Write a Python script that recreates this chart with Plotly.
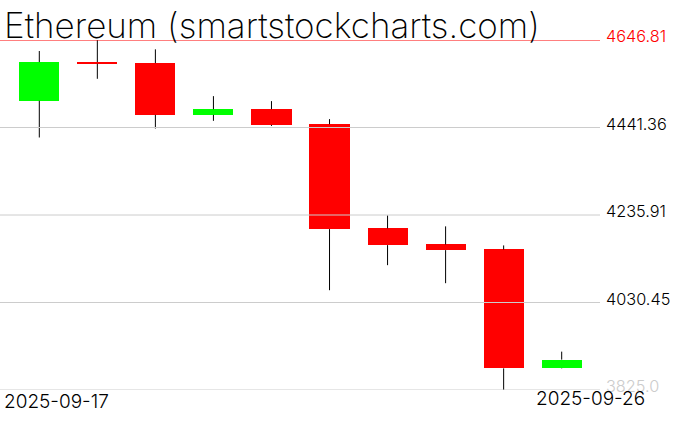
import plotly.graph_objects as go

# ---- data ----
dates = ["2025-09-17", "2025-09-18", "2025-09-19", "2025-09-20", "2025-09-21",
         "2025-09-22", "2025-09-23", "2025-09-24", "2025-09-25", "2025-09-26"]
opens = [4504.0, 4595.0, 4592.6, 4471.0, 4484.4, 4449.1, 4204.5, 4166.8, 4155.0, 3875.8]
highs = [4620.9, 4646.81, 4624.9, 4515.0, 4503.3, 4461.0, 4235.0, 4209.2, 4164.5, 3915.1]
lows = [4417.9, 4555.7, 4439.0, 4457.0, 4445.0, 4059.3, 4118.1, 4075.8, 3825.0, 3875.0]
closes = [4595.0, 4591.0, 4471.0, 4484.4, 4447.5, 4202.8, 4165.2, 4153.4, 3875.8, 3896.3]

level_values = [4646.81, 4441.36, 4235.91, 4030.45, 3825.0]
level_labels = ["4646.81", "4441.36", "4235.91", "4030.45", "3825.0"]
title_text = "Ethereum (smartstockcharts.com)"

UP = "#00ff00"
DOWN = "#ff0000"
LABEL_FONT = "Inter"

idx = list(range(len(dates)))
tops = [max(o, c) for o, c in zip(opens, closes)]
bottoms = [min(o, c) for o, c in zip(opens, closes)]
colors = [UP if c > o else DOWN for o, c in zip(opens, closes)]

fig = go.Figure()

fig.add_trace(go.Bar(
    x=idx, y=[t - b for t, b in zip(tops, bottoms)], base=bottoms,
    width=0.69, marker=dict(color=colors, line=dict(width=0)),
    hoverinfo="skip", showlegend=False,
))

wx, wy = [], []
for i, h, l, t, b in zip(idx, highs, lows, tops, bottoms):
    wx += [i, i, None, i, i, None]
    wy += [h, t, None, b, l, None]
fig.add_trace(go.Scatter(
    x=wx, y=wy, mode="lines", line=dict(color="black", width=1),
    hoverinfo="skip", showlegend=False,
))

shapes = []
annotations = []
for k, (v, lab) in enumerate(zip(level_values, level_labels)):
    if k == 0:
        lc, tc = "#ff0000", "#ff0000"
    elif k == len(level_values) - 1:
        lc, tc = "#cccccc", "#cccccc"
    else:
        lc, tc = "#cccccc", "black"
    shapes.append(dict(type="line", xref="paper", x0=0, x1=1, yref="y", y0=v, y1=v,
                       line=dict(color=lc, width=1), layer="above"))
    annotations.append(dict(text=lab, xref="paper", x=1, xshift=4, xanchor="left",
                            yref="y", y=v, yanchor="bottom", yshift=-8, showarrow=False,
                            font=dict(family=LABEL_FONT, size=16.3, color=tc, weight=300)))

annotations.append(dict(text=title_text, xref="paper", x=0, xshift=2, xanchor="left",
                        yref="paper", y=1, yanchor="bottom", yshift=-8, showarrow=False,
                        font=dict(family="Inter", size=35, color="black", weight=200)))
annotations.append(dict(text=dates[0], xref="paper", x=0, xshift=2, xanchor="left",
                        yref="paper", y=0, yanchor="top", yshift=2, showarrow=False,
                        font=dict(family=LABEL_FONT, size=19, color="black", weight=300)))
annotations.append(dict(text=dates[-1], xref="paper", x=1, xshift=47, xanchor="right",
                        yref="paper", y=0, yanchor="top", yshift=5, showarrow=False,
                        font=dict(family=LABEL_FONT, size=19, color="black", weight=300)))

fig.update_layout(
    width=676, height=431,
    margin=dict(l=0, r=76, t=40, b=41),
    paper_bgcolor="white", plot_bgcolor="white",
    xaxis=dict(range=[-0.677, 9.66], showgrid=False, zeroline=False,
               showticklabels=False, ticks="", showline=False, fixedrange=True),
    yaxis=dict(range=[3825.0, 4646.81], showgrid=False, zeroline=False,
               showticklabels=False, ticks="", showline=False, fixedrange=True),
    shapes=shapes, annotations=annotations,
    bargap=0, showlegend=False,
)

fig.write_html("out.html", config={"displayModeBar": False},
               post_script="document.body.style.margin='0';document.body.style.overflow='hidden';")
